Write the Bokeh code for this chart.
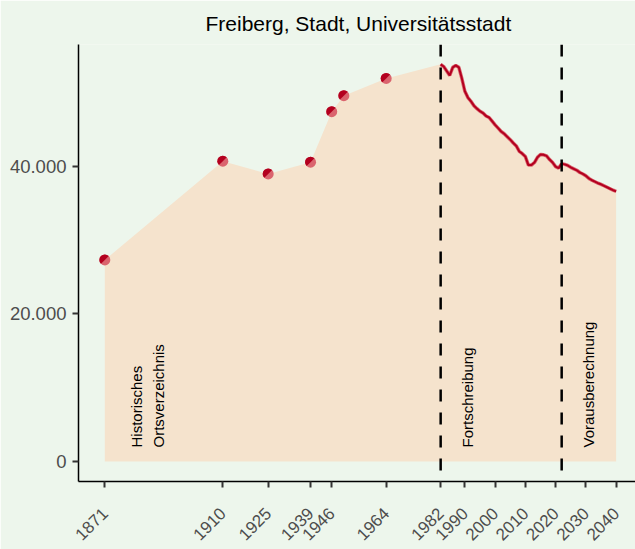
import math
from bokeh.plotting import figure
from bokeh.models import Span, FixedTicker, Range1d
from bokeh.embed import file_html
from bokeh.resources import INLINE
from bokeh.core.properties import value

# ---------------- data ----------------
title_text = "Freiberg, Stadt, Universitätsstadt"

hist_years = [1871, 1910, 1925, 1939, 1946, 1950, 1964]
hist_pop = [27300, 40680, 38960, 40540, 47390, 49550, 51890]

fort_years = list(range(1982, 2023))
fort_pop = [53800, 53500, 52900, 52300, 53400, 53650, 53400, 51900, 50150, 49300,
            48800, 48200, 47800, 47450, 47200, 46800, 46600, 46100, 45600, 45150,
            44700, 44400, 44000, 43600, 43150, 42750, 42000, 41700, 41300, 40150,
            40150, 40500, 41200, 41600, 41550, 41400, 40900, 40500, 39950, 39750,
            40350]

proj_years = list(range(2022, 2041))
proj_pop = [40350, 40250, 40100, 39850, 39650, 39450, 39150, 38950, 38700, 38350,
            38100, 37900, 37700, 37550, 37350, 37150, 36950, 36750, 36600]

x_tick_years = [1871, 1910, 1925, 1939, 1946, 1964, 1982, 1990, 2000, 2010, 2020, 2030, 2040]
y_ticks = [0, 20000, 40000]
y_tick_labels = ["0", "20.000", "40.000"]

section_breaks = [1982, 2022]
section_texts = ["Historisches\nOrtsverzeichnis", "Fortschreibung", "Vorausberechnung"]
section_x = [1885, 1991, 2031]

# ---------------- style ----------------
BG = "#EDF6EC"
AREA = "#F5E3CD"
DARK = "#B3001F"
LIGHT = "#DA646E"
FONT = "Liberation Sans"

X0, X1 = 1862.3, 2046.4
Y0, Y1 = -2703, 56486
W, H = 635, 549

p = figure(width=W, height=H, output_backend="svg", toolbar_location=None,
           x_range=Range1d(X0, X1), y_range=Range1d(Y0, Y1),
           min_border_left=78, min_border_right=0,
           min_border_top=43, min_border_bottom=68,
           background_fill_color=BG, border_fill_color=BG)
p.outline_line_color = None
p.grid.visible = False

# area
area_years = hist_years + fort_years + proj_years[1:]
area_pop = hist_pop + fort_pop + proj_pop[1:]
p.varea(x=area_years, y1=[0] * len(area_years), y2=area_pop, fill_color=AREA)

# lines
for yrs, vals in ((fort_years, fort_pop), (proj_years, proj_pop)):
    p.line(yrs, vals, line_color=LIGHT, line_width=3.5)
for yrs, vals in ((fort_years, fort_pop), (proj_years, proj_pop)):
    p.line(yrs, vals, line_color=DARK, line_width=2)

# points
p.scatter(hist_years, hist_pop, size=11, fill_color=LIGHT, line_color=None)
p.wedge(hist_years, hist_pop, radius=5.5, radius_units="screen",
        start_angle=math.pi / 4, end_angle=5 * math.pi / 4,
        fill_color=DARK, line_color=None)

# dashed separators
for b in section_breaks:
    p.add_layout(Span(location=b, dimension="height", line_color="black",
                      line_width=2.5, line_dash="12 11"))

# section labels
p.text(x=section_x, y=[1900] * 3, text=section_texts, angle=math.pi / 2,
       text_align="left", text_baseline="middle", text_font=value(FONT),
       text_font_size="15px", text_color="black", text_line_height=1.3)

# axes
p.yaxis.ticker = FixedTicker(ticks=y_ticks)
p.yaxis.major_label_overrides = {t: l for t, l in zip(y_ticks, y_tick_labels)}
p.yaxis.major_label_standoff = 6

p.xaxis.ticker = FixedTicker(ticks=x_tick_years)
p.xaxis.major_label_overrides = {t: str(t) for t in x_tick_years}
p.xaxis.major_label_orientation = math.pi / 4
p.xaxis.major_label_standoff = 23

for ax in (p.xaxis, p.yaxis):
    ax.axis_line_color = "black"
    ax.axis_line_width = 1.5
    ax.major_tick_line_color = "#333333"
    ax.major_tick_line_width = 2
    ax.major_tick_out = 6
    ax.major_tick_in = 0
    ax.minor_tick_line_color = None
    ax.major_label_text_font = FONT
    ax.major_label_text_font_size = "17px"
    ax.major_label_text_color = "#4D4D4D"
p.yaxis.major_label_text_font_size = "18.5px"

# title
p.title.text = title_text
p.title.align = "left"
p.title.offset = 127
p.title.standoff = 19
p.title.text_font = FONT
p.title.text_font_size = "21px"
p.title.text_font_style = "normal"
p.title.text_color = "black"

open("out.html", "w").write(file_html(p, INLINE))
